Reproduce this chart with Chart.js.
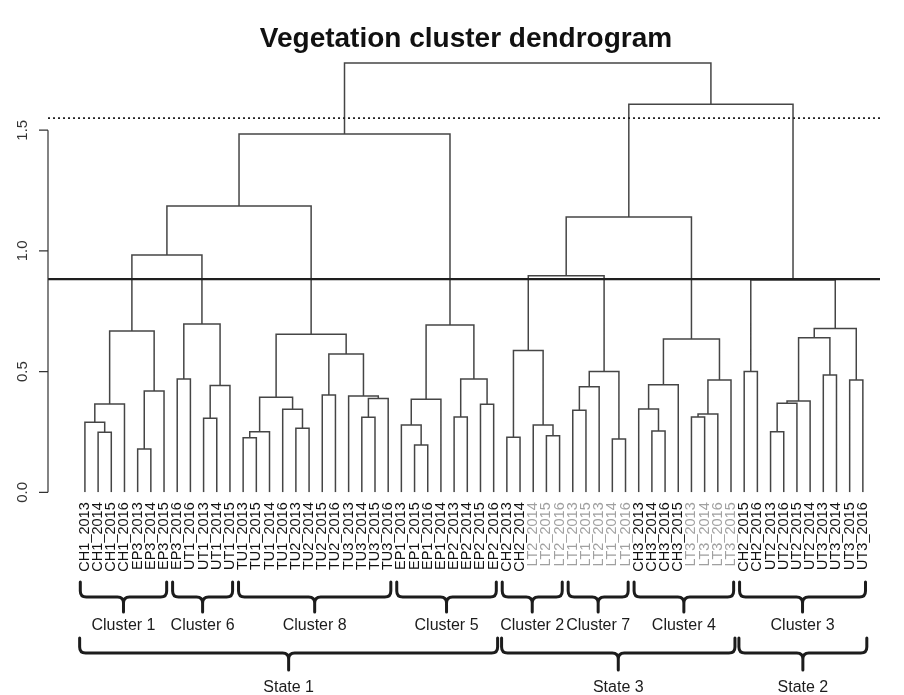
<!DOCTYPE html>
<html>
<head>
<meta charset="utf-8">
<title>Vegetation cluster dendrogram</title>
<script src="https://cdn.jsdelivr.net/npm/chart.js@4.4.1/dist/chart.umd.min.js"></script>
<style>
  html, body { margin: 0; padding: 0; background: #fff; }
  #wrap { width: 904px; height: 695px; }
</style>
</head>
<body>
<div id="wrap"><canvas id="dendro" width="904" height="695"></canvas></div>
<script>
// leaves, left to right
const leafLabels = [
  'CH1_2013','CH1_2014','CH1_2015','CH1_2016','EP3_2013','EP3_2014','EP3_2015','EP3_2016',
  'UT1_2016','UT1_2013','UT1_2014','UT1_2015',
  'TU1_2013','TU1_2015','TU1_2014','TU1_2016','TU2_2013','TU2_2014','TU2_2015','TU2_2016',
  'TU3_2013','TU3_2014','TU3_2015','TU3_2016',
  'EP1_2013','EP1_2015','EP1_2016','EP1_2014','EP2_2013','EP2_2014','EP2_2015','EP2_2016',
  'CH2_2013','CH2_2014','LT2_2014','LT2_2015','LT2_2016',
  'LT1_2013','LT1_2015','LT2_2013','LT1_2014','LT1_2016',
  'CH3_2013','CH3_2014','CH3_2016','CH3_2015','LT3_2013','LT3_2014','LT3_2016','LT3_2015',
  'CH2_2015','CH2_2016','UT2_2013','UT2_2016','UT2_2015','UT2_2014',
  'UT3_2013','UT3_2014','UT3_2015','UT3_2016'
];

// merges like R's hclust: negative = leaf position, positive = earlier merge (1-based)
const merges = [
  [-2,-3],[-1,1],[2,-4],[-5,-6],[4,-7],[3,5],            // 1-6   cluster 1
  [-8,-9],[-10,-11],[8,-12],[7,9],[6,10],                // 7-11  cluster 6
  [-13,-14],[12,-15],[-17,-18],[-16,14],[13,15],
  [-19,-20],[-22,-23],[18,-24],[-21,19],[17,20],[16,21], // 12-22 cluster 8
  [11,22],
  [-26,-27],[-25,24],[25,-28],[-29,-30],[-31,-32],[27,28],[26,29], // 24-30 cluster 5
  [23,30],
  [-33,-34],[-36,-37],[-35,33],[32,34],                  // 32-35 cluster 2
  [-38,-39],[36,-40],[-41,-42],[37,38],                  // 36-39 cluster 7
  [35,39],
  [-44,-45],[-43,41],[42,-46],[-47,-48],[44,-49],[45,-50],[43,46], // 41-47 cluster 4
  [40,47],
  [-51,-52],[-53,-54],[50,-55],[51,-56],[-57,-58],[52,53],[-59,-60],[54,55],[49,56], // cluster 3
  [48,57],
  [31,58]
];
const mergeHeights = [
  0.249,0.290,0.366,0.179,0.420,0.668,
  0.469,0.307,0.442,0.697,0.983,
  0.226,0.251,0.265,0.344,0.394,
  0.403,0.311,0.389,0.399,0.573,0.655,
  1.186,
  0.196,0.279,0.385,0.312,0.365,0.469,0.693,
  1.484,
  0.228,0.234,0.279,0.587,
  0.340,0.437,0.221,0.500,
  0.897,
  0.254,0.345,0.446,0.312,0.324,0.465,0.635,
  1.141,
  0.500,0.251,0.369,0.378,0.486,0.640,0.465,0.679,0.879,
  1.608,
  1.778
];

const cutSolid = 0.883;
const cutDotted = 1.55;
const yTicks = [0, 0.5, 1.0, 1.5];

const clusterNames = ['Cluster 1','Cluster 6','Cluster 8','Cluster 5','Cluster 2','Cluster 7','Cluster 4','Cluster 3'];
const clusterLeaves = [[1,7],[8,12],[13,24],[25,32],[33,37],[38,42],[43,50],[51,60]];
const stateNames = ['State 1','State 3','State 2'];
const stateLeaves = [[1,32],[33,50],[51,60]];

const X_MIN = -1.8, X_MAX = 61.3;

// build the U-shaped links
const nodeX = [], nodeH = [];
function childPos(id){
  return id < 0 ? { x: -id, h: 0 } : { x: nodeX[id-1], h: nodeH[id-1] };
}
const links = [];
merges.forEach(function(m, i){
  const l = childPos(m[0]), r = childPos(m[1]), h = mergeHeights[i];
  links.push({x:l.x, y:l.h}, {x:l.x, y:h}, {x:r.x, y:h}, {x:r.x, y:r.h}, {x:r.x, y:null});
  nodeX.push((l.x + r.x)/2);
  nodeH.push(h);
});

const FONT = '"Liberation Sans", Arial, sans-serif';

const annotations = {
  id: 'annotations',
  afterDraw(chart){
    const ctx = chart.ctx, x = chart.scales.x, y = chart.scales.y;
    ctx.save();

    // title
    ctx.fillStyle = '#111';
    ctx.font = 'bold 28px ' + FONT;
    ctx.textAlign = 'center';
    ctx.textBaseline = 'alphabetic';
    ctx.fillText('Vegetation cluster dendrogram', 466, 47);

    // y axis, only over the tick range
    const ax = x.left;
    ctx.strokeStyle = '#333';
    ctx.lineWidth = 1.2;
    ctx.beginPath();
    ctx.moveTo(ax, y.getPixelForValue(yTicks[0]));
    ctx.lineTo(ax, y.getPixelForValue(yTicks[yTicks.length-1]));
    yTicks.forEach(function(v){
      const py = y.getPixelForValue(v);
      ctx.moveTo(ax, py);
      ctx.lineTo(ax - 9, py);
    });
    ctx.stroke();
    ctx.fillStyle = '#333';
    ctx.font = '15px ' + FONT;
    ctx.textBaseline = 'middle';
    yTicks.forEach(function(v){
      ctx.save();
      ctx.translate(23, y.getPixelForValue(v));
      ctx.rotate(-Math.PI/2);
      ctx.fillText(v.toFixed(1), 0, 0);
      ctx.restore();
    });

    // braces under the leaves
    function brace(x0, x1, top, mid, bottom){
      const r = 6, xm = (x0 + x1)/2;
      ctx.beginPath();
      ctx.moveTo(x0, top);
      ctx.lineTo(x0, mid - r);
      ctx.quadraticCurveTo(x0, mid, x0 + r, mid);
      ctx.lineTo(xm - r, mid);
      ctx.quadraticCurveTo(xm, mid, xm, mid + r);
      ctx.lineTo(xm, bottom);
      ctx.moveTo(xm, mid + r);
      ctx.quadraticCurveTo(xm, mid, xm + r, mid);
      ctx.lineTo(x1 - r, mid);
      ctx.quadraticCurveTo(x1, mid, x1, mid - r);
      ctx.lineTo(x1, top);
      ctx.stroke();
      return xm;
    }
    ctx.strokeStyle = '#1c1c1c';
    ctx.lineWidth = 3;
    ctx.lineCap = 'round';
    ctx.lineJoin = 'round';
    ctx.fillStyle = '#1c1c1c';
    ctx.font = '16px ' + FONT;
    ctx.textBaseline = 'alphabetic';
    clusterLeaves.forEach(function(g, i){
      const xm = brace(x.getPixelForValue(g[0] - 0.35), x.getPixelForValue(g[1] + 0.2), 582, 597, 612);
      ctx.fillText(clusterNames[i], xm, 630);
    });
    stateLeaves.forEach(function(g, i){
      const xm = brace(x.getPixelForValue(g[0] - 0.4), x.getPixelForValue(g[1] + 0.3), 638, 653, 670);
      ctx.fillText(stateNames[i], xm, 692);
    });

    ctx.restore();
  }
};

new Chart(document.getElementById('dendro').getContext('2d'), {
  type: 'line',
  data: {
    datasets: [
      {
        label: 'cut',
        data: [{x: X_MIN, y: cutSolid}, {x: X_MAX, y: cutSolid}],
        borderColor: '#1e1e1e',
        borderWidth: 2.4,
        pointRadius: 0
      },
      {
        label: 'states',
        data: [{x: X_MIN, y: cutDotted}, {x: X_MAX, y: cutDotted}],
        borderColor: '#222',
        borderWidth: 1.6,
        borderDash: [2, 3],
        pointRadius: 0
      },
      {
        label: 'links',
        data: links,
        borderColor: '#454545',
        borderWidth: 1.5,
        pointRadius: 0,
        spanGaps: false,
        tension: 0
      }
    ]
  },
  options: {
    responsive: false,
    animation: false,
    devicePixelRatio: 1,
    layout: { padding: { top: 57.8, right: 24, bottom: 0, left: 0 } },
    plugins: { legend: { display: false }, title: { display: false }, tooltip: { enabled: false } },
    scales: {
      x: {
        type: 'linear',
        min: X_MIN,
        max: X_MAX,
        grid: { display: false, drawTicks: false },
        border: { display: false },
        afterBuildTicks: function(s){ s.ticks = leafLabels.map(function(_, i){ return { value: i + 1 }; }); },
        afterFit: function(s){ s.height = 202.7; },
        ticks: {
          autoSkip: false,
          minRotation: 90,
          maxRotation: 90,
          padding: 10,
          font: { family: FONT, size: 14.5 },
          color: function(c){ return (leafLabels[c.index] || '').indexOf('LT') === 0 ? '#a0a0a0' : '#111'; },
          callback: function(v){ return leafLabels[Math.round(v) - 1]; }
        }
      },
      y: {
        type: 'linear',
        min: 0,
        max: 1.8,
        grid: { display: false, drawTicks: false },
        border: { display: false },
        ticks: { display: false },
        afterFit: function(s){ s.width = 48; }
      }
    }
  },
  plugins: [annotations]
});
</script>
</body>
</html>
